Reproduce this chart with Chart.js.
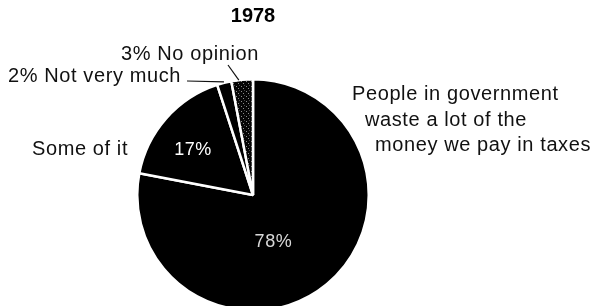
<!DOCTYPE html>
<html>
<head>
<meta charset="utf-8">
<style>
    body { margin: 0; background: #fff; overflow: hidden; }
    canvas { display: block; }
</style>
</head>
<body>
<canvas id="myChart" width="594" height="312"></canvas>

<script src="https://cdn.jsdelivr.net/npm/chart.js"></script>

<script>

    const chartTitle = '1978';
    const categories = ['People in government waste a lot of the money we pay in taxes', 'Some of it', 'Not very much', 'No opinion'];
    const shares = [78, 17, 2, 3];

    // how the category text is broken / placed around the pie (relative to pie centre)
    const outerLabels = [
        { index: 0, lines: ['People in government', 'waste a lot of the', 'money we pay in taxes'], dx: [99, 112, 122], dy: [-95, -69.5, -44] },
        { index: 1, lines: ['Some of it'], dx: [-221], dy: [-40] },
        { index: 2, lines: ['2% Not very much'], dx: [-245], dy: [-113], leader: { from: [-66, -114], frac: 0.5, gap: 1 } },
        { index: 3, lines: ['3% No opinion'], dx: [-132], dy: [-135], leader: { from: [-25, -130], frac: 0.35, gap: 0 } }
    ];
    // percent text inside the big slices: position along the arc and out from the centre
    const innerLabels = [
        { index: 0, angleFrac: 0.557, radiusFrac: 0.44, color: '#d8d8d8' },
        { index: 1, angleFrac: 0.43, radiusFrac: 0.65, color: '#ffffff' }
    ];

    const ctx = document.getElementById('myChart').getContext('2d');

    function speckle() {
        const c = document.createElement('canvas');
        c.width = 5;
        c.height = 5;
        const g = c.getContext('2d');
        g.fillStyle = '#050505';
        g.fillRect(0, 0, 5, 5);
        g.fillStyle = '#8a8a8a';
        g.fillRect(1, 1, 1, 1);
        g.fillRect(3, 3, 1, 1);
        g.fillStyle = '#444';
        g.fillRect(4, 0, 1, 1);
        return ctx.createPattern(c, 'repeat');
    }

    const pieLabels = {
        id: 'pieLabels',
        afterDatasetsDraw(chart) {
            const c = chart.ctx;
            const arcs = chart.getDatasetMeta(0).data;
            const cx = arcs[0].x;
            const cy = arcs[0].y;

            c.save();
            c.textBaseline = 'middle';
            c.textAlign = 'center';
            c.font = '18px "Liberation Sans", Arial, sans-serif';
            c.letterSpacing = '0.5px';
            innerLabels.forEach(l => {
                const a = arcs[l.index];
                const ang = a.startAngle + (a.endAngle - a.startAngle) * l.angleFrac;
                const rr = a.outerRadius * l.radiusFrac;
                c.fillStyle = l.color;
                c.fillText(shares[l.index] + '%', cx + Math.cos(ang) * rr, cy + Math.sin(ang) * rr);
            });

            c.textAlign = 'left';
            c.textBaseline = 'alphabetic';
            c.font = '20px "Liberation Sans", Arial, sans-serif';
            c.letterSpacing = '0.6px';
            c.fillStyle = '#111';
            c.strokeStyle = '#111';
            c.lineWidth = 1.2;
            outerLabels.forEach(l => {
                l.lines.forEach((t, i) => {
                    c.fillText(t, cx + l.dx[i], cy + l.dy[i]);
                });
                if (l.leader) {
                    const a = arcs[l.index];
                    const ang = a.startAngle + (a.endAngle - a.startAngle) * l.leader.frac;
                    const rr = a.outerRadius + l.leader.gap;
                    c.beginPath();
                    c.moveTo(cx + l.leader.from[0], cy + l.leader.from[1]);
                    c.lineTo(cx + Math.cos(ang) * rr, cy + Math.sin(ang) * rr);
                    c.stroke();
                }
            });
            c.restore();
        }
    };

    const chartInstance = new Chart(ctx, {
        type: 'pie',
        data: {
            labels: categories,
            datasets: [{
                data: shares,
                backgroundColor: ['#000000', '#000000', '#000000', speckle()],
                borderColor: '#ffffff',
                borderWidth: 2.5,
                hoverOffset: 0
            }]
        },
        options: {
            responsive: false,
            animation: false,
            layout: {
                padding: { top: 0, left: 0, right: 88, bottom: 0 }
            },
            plugins: {
                legend: { display: false },
                tooltip: { enabled: false },
                title: {
                    display: true,
                    text: chartTitle,
                    color: '#000',
                    font: { family: '"Liberation Sans", Arial, sans-serif', size: 20, weight: 'bold' },
                    padding: { top: 4, bottom: 50 }
                }
            }
        },
        plugins: [pieLabels]
    });

</script>
</body>
</html>
